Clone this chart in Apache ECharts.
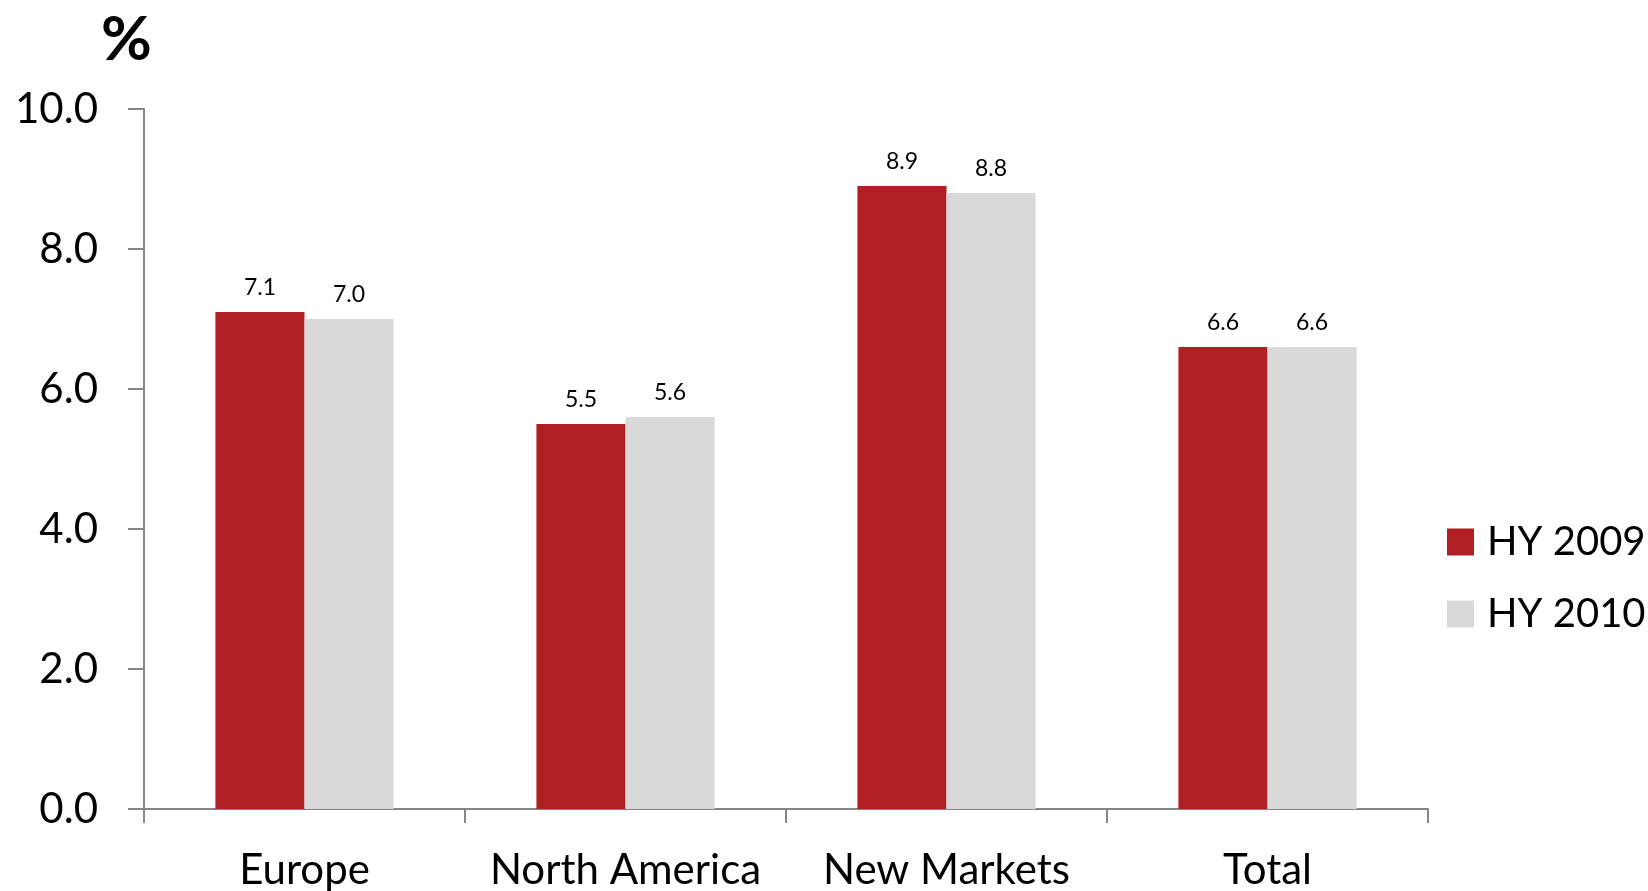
<!DOCTYPE html>
<html>
<head>
<meta charset="utf-8">
<script src="https://cdn.jsdelivr.net/npm/echarts@6/dist/echarts.min.js"></script>
<style>
  html, body { margin: 0; padding: 0; background: #fff; }
  #main { width: 1648px; height: 891px; }
</style>
</head>
<body>
<div id="main"></div>
<script>
// 数据
var categories = ['Europe', 'North America', 'New Markets', 'Total'];
var hy2009 = [7.1, 5.5, 8.9, 6.6];
var hy2010 = [7.0, 5.6, 8.8, 6.6];
var yTicks = [0, 2, 4, 6, 8, 10];

var chart = echarts.init(document.getElementById('main'));
var font = 'Lato, "Open Sans", sans-serif';

var option = {
  animation: false,
  //左上角的 % 单位
  title: {
    text: '%',
    left: 96,
    top: 4,
    textStyle: { fontFamily: font, fontSize: 62, fontWeight: 'bold', color: '#000' }
  },
  legend: {
    orient: 'vertical',
    left: 1442,
    top: 517,
    itemWidth: 27,
    itemHeight: 27,
    itemGap: 32,
    icon: 'rect',
    textStyle: { fontFamily: font, fontSize: 40, color: '#000', padding: [0, 0, 0, 8] },
    data: ['HY 2009', 'HY 2010']
  },
  grid: { left: 144, right: 220, top: 109, bottom: 82 },
  xAxis: {
    type: 'category',
    data: categories,
    axisLine: { lineStyle: { color: '#868686', width: 2 } },
    axisTick: { show: true, interval: 0, length: 14, lineStyle: { color: '#868686', width: 2 } },
    axisLabel: { interval: 0, fontFamily: font, fontSize: 42, color: '#000', margin: 40 }
  },
  yAxis: {
    type: 'value',
    min: yTicks[0],
    max: yTicks[yTicks.length - 1],
    interval: 2,
    splitLine: { show: false },
    axisLine: { show: true, lineStyle: { color: '#868686', width: 2 } },
    axisTick: { show: true, length: 16, lineStyle: { color: '#868686', width: 2 } },
    axisLabel: {
      fontFamily: font, fontSize: 42, color: '#000', margin: 46,
      formatter: function (v) { return v.toFixed(1); }
    }
  },
  series: [{
    name: 'HY 2009',
    type: 'bar',
    data: hy2009,
    barGap: '0%',
    barCategoryGap: '44.5%',
    itemStyle: { color: '#B01F24' },
    label: {
      show: true, position: 'top', distance: 13,
      fontFamily: font, fontSize: 23, color: '#000',
      formatter: function (p) { return p.value.toFixed(1); }
    }
  }, {
    name: 'HY 2010',
    type: 'bar',
    data: hy2010,
    itemStyle: { color: '#D9D9D9' },
    label: {
      show: true, position: 'top', distance: 13,
      fontFamily: font, fontSize: 23, color: '#000',
      formatter: function (p) { return p.value.toFixed(1); }
    }
  }]
};

chart.setOption(option);
</script>
</body>
</html>
